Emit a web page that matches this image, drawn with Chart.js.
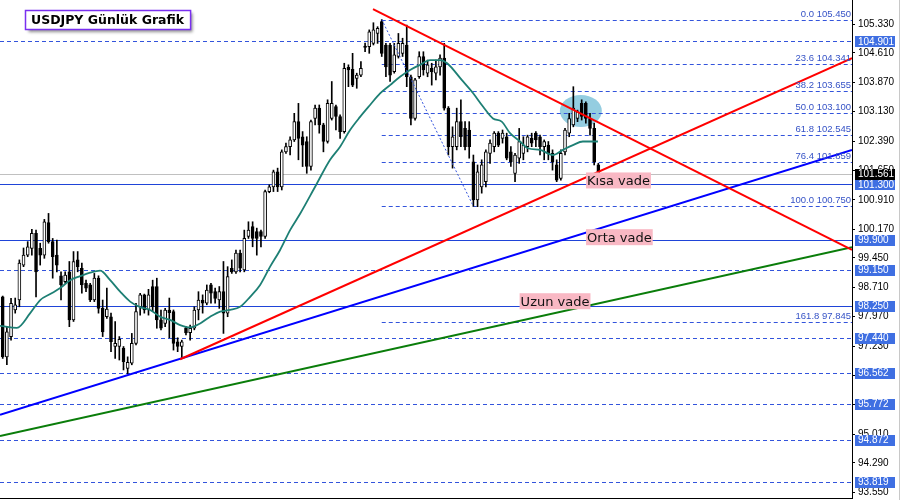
<!DOCTYPE html>
<html><head><meta charset="utf-8">
<script src="https://cdn.jsdelivr.net/npm/chart.js@4/dist/chart.umd.min.js"></script>
<style>html,body{margin:0;padding:0;background:#fff;}canvas{display:block;}</style>
</head><body>
<canvas id="c" width="900" height="500"></canvas>
<script>
// ---- Candles (daily USDJPY) ----
const opens  = [98.47,96.96,97.47,98.14,98.39,99.27,99.52,99.69,100.07,99.69,99.52,100.34,99.86,99.52,99.00,98.85,99.10,97.89,99.40,99.19,98.81,98.77,98.39,98.94,98.18,97.97,97.97,97.22,97.22,97.18,96.67,96.80,97.30,98.22,98.52,98.14,98.73,98.73,97.89,97.80,98.14,98.10,97.34,97.22,97.69,97.57,97.68,98.14,98.39,98.31,98.77,98.60,98.39,98.60,98.06,99.19,99.10,99.57,99.15,99.99,100.24,100.11,100.11,99.99,101.12,101.24,101.62,101.24,102.12,102.25,102.42,102.88,102.50,102.38,101.75,102.96,103.22,102.80,102.38,102.96,103.26,103.01,102.63,104.25,104.20,103.97,104.05,104.78,104.77,104.85,105.10,105.40,104.81,104.81,104.14,104.52,104.60,104.81,104.01,102.96,104.01,104.52,104.10,104.22,104.10,104.26,104.48,103.22,102.25,102.25,102.88,102.71,102.67,101.87,100.91,101.24,101.37,102.08,102.25,102.59,102.46,102.50,102.12,101.58,101.96,102.08,102.25,102.46,102.59,102.50,102.25,102.29,102.08,101.79,101.45,102.12,102.59,102.80,102.96,103.34,103.34,102.96,102.71,101.79];
const highs  = [98.49,97.72,98.43,98.44,99.40,99.70,99.86,100.17,100.15,99.82,100.42,100.57,99.94,99.90,99.10,99.10,99.36,99.61,99.61,99.32,98.89,98.81,99.06,99.00,98.39,98.69,98.06,97.85,97.47,97.22,96.96,97.55,98.31,98.56,98.54,98.66,98.89,98.94,98.14,98.18,98.44,98.14,97.44,97.38,97.72,97.76,98.22,98.60,98.52,98.77,98.81,98.69,98.73,99.36,99.23,99.40,99.65,99.65,100.15,100.36,100.36,100.20,100.15,101.16,101.29,101.66,101.71,102.17,102.34,102.50,103.09,103.34,102.63,102.50,102.92,103.30,103.30,102.84,103.43,103.89,103.30,103.05,104.35,104.31,104.60,104.10,104.39,104.86,105.19,105.37,105.27,105.45,104.85,104.85,104.85,105.10,104.98,105.31,104.05,103.97,104.64,104.64,104.43,104.35,104.43,104.56,104.85,103.26,102.75,103.22,103.43,102.88,102.88,102.04,101.79,101.92,102.17,102.42,102.63,102.63,102.67,102.59,102.25,102.08,102.71,102.50,102.54,102.59,102.63,102.54,102.42,102.38,102.17,101.92,102.17,102.71,103.09,103.76,103.17,103.43,103.38,103.09,102.84,101.83];
const lows   = [96.92,96.76,97.38,98.06,98.22,99.23,99.48,99.52,98.47,99.27,99.44,99.82,98.94,99.10,98.39,98.81,97.72,97.85,99.10,98.56,98.60,98.35,98.35,98.06,97.47,97.93,97.09,96.92,96.88,96.63,96.53,96.76,97.26,98.01,98.06,98.01,98.10,97.68,97.64,97.72,97.44,97.13,97.09,96.93,97.51,97.38,97.64,97.89,98.06,98.27,98.31,98.31,98.18,97.55,97.97,99.06,99.06,99.10,99.10,99.94,99.73,99.52,99.73,99.94,101.09,101.12,101.12,101.16,102.08,102.04,102.38,101.92,101.75,101.58,101.66,102.80,102.59,102.12,102.34,102.92,102.67,102.46,102.59,103.76,103.76,103.72,104.01,104.64,104.60,104.81,104.85,104.52,104.01,103.89,104.10,104.48,104.52,103.76,102.80,102.92,103.97,104.05,104.01,103.80,103.93,104.05,103.17,102.04,101.71,102.17,102.25,102.17,101.96,100.75,100.74,101.08,101.24,101.83,102.12,102.25,102.34,101.92,101.75,101.37,101.83,101.92,102.12,102.25,102.25,102.04,101.92,101.92,101.66,101.37,101.41,102.04,102.50,102.75,102.88,102.92,102.84,102.54,101.79,101.54];
const closes = [96.96,97.59,98.31,98.27,99.32,99.52,99.73,100.07,99.10,99.52,100.36,99.86,99.48,99.27,98.77,99.02,97.89,99.36,99.23,98.77,98.69,98.39,98.94,98.18,97.59,98.16,97.34,97.30,97.40,96.84,96.82,97.30,98.10,98.52,98.14,98.52,98.22,97.89,97.68,98.14,98.07,97.30,97.22,97.34,97.56,97.68,98.14,98.39,98.31,98.64,98.56,98.43,98.60,98.06,98.98,99.10,99.57,99.19,99.94,100.15,99.94,99.94,99.99,101.12,101.24,101.62,101.24,102.12,102.25,102.42,102.88,102.46,102.29,101.75,102.88,103.22,102.80,102.38,103.34,103.34,103.01,102.63,104.22,104.18,103.80,104.05,104.22,104.75,105.14,105.19,105.23,104.60,104.26,104.05,104.56,104.85,104.85,104.01,102.96,103.93,104.52,104.18,104.31,104.14,104.26,104.48,103.22,102.25,102.50,102.88,102.50,102.25,102.25,100.91,101.62,101.79,102.12,102.34,102.59,102.29,102.59,101.96,101.87,102.04,102.38,102.29,102.50,102.34,102.42,102.25,102.38,102.08,101.87,101.41,102.08,102.67,102.96,103.22,103.13,103.01,102.96,102.71,101.87,101.56];

// ---- Moving average ----
const maIdx  = [-0.65,3.4,6.6,9.0,11.4,13.8,16.2,18.6,21.0,23.4,25.8,28.2,30.6,33.0,35.4,37.8,40.2,42.6,45.0,47.4,49.8,52.2,54.6,57.0,59.4,61.8,64.2,66.6,69.0,71.4,75.0,78.6,81.0,83.4,85.8,88.2,90.6,93.0,95.4,97.8,100.2,102.6,105.0,106.7,110.2,112.9,115.3,117.7,119.8,121.8,124.2,126.1,129.0,132.1,134.5,136.9,139.3,142.9];
const maVals = [97.74,97.69,98.06,98.39,98.54,98.69,98.89,98.99,99.08,99.13,98.89,98.60,98.35,98.21,98.14,97.97,97.89,97.76,97.70,97.80,97.97,98.10,98.14,98.22,98.47,98.77,99.23,99.65,100.15,100.56,101.24,101.92,102.25,102.67,103.00,103.30,103.59,103.80,104.01,104.18,104.31,104.43,104.43,104.35,103.93,103.60,103.26,102.96,102.88,102.59,102.38,102.21,102.17,102.04,102.17,102.29,102.38,102.38];

// ---- Trend lines (bar index, price) ----
const redDownX = [88.9, 203.9],  redDownY = [105.715, 99.65];
const redUpX   = [42.6, 203.9],  redUpY   = [96.90, 104.48];
const blueX    = [-0.65, 203.9], blueY    = [95.50, 102.17];
const greenX   = [-0.65, 203.9], greenY   = [94.97, 99.72];
const fibDiagX = [91, 113],      fibDiagY = [105.45, 100.75];

// ---- Fibonacci levels ----
const fibLevels = [0.0, 23.6, 38.2, 50.0, 61.8, 76.4, 100.0, 161.8];
const fibPrices = [105.450, 104.341, 103.655, 103.100, 102.545, 101.859, 100.750, 97.845];
const fibStartIdx = 91;

// ---- Horizontal levels ----
const dashedLevels = [104.901, 99.150, 97.440, 96.562, 95.772, 94.872, 93.819];
const solidLevels  = [101.300, 99.900, 98.250];
const currentPrice = 101.561;

// ---- Price axis ----
const tickValues = [105.33,104.61,103.87,103.13,102.39,101.65,100.91,100.17,99.45,98.71,97.97,97.23,96.49,95.75,95.01,94.29,93.55];
const tickLabels = ["105.330","104.610","103.870","103.130","102.390","101.650","100.910","100.170","99.450","98.710","97.970","97.230","96.490","95.750","95.010","94.290","93.550"];

// ---- Text annotations ----
const titleText = "USDJPY Günlük Grafik";
const zoneLabels = ["Kısa vade", "Orta vade", "Uzun vade"];
const zoneAnchorX = [140.05, 140.05, 124.1];
const zoneAnchorY = [101.40, 99.972, 98.36];

const idx = opens.map((_, i) => i);
const pts = (xs, ys) => xs.map((x, k) => ({x: x, y: ys[k]}));

const overlay = {
  id: 'overlay',
  beforeDatasetsDraw(chart) {
    const {ctx, chartArea: a, scales: {x, y}} = chart;
    ctx.save();
    ctx.beginPath(); ctx.rect(a.left, a.top, a.right - a.left, a.bottom - a.top); ctx.clip();
    ctx.fillStyle = '#94cde0';
    ctx.beginPath();
    ctx.ellipse(x.getPixelForValue(138.8), y.getPixelForValue(103.15), 21, 16, 0, 0, Math.PI * 2);
    ctx.fill();
    ctx.lineWidth = 1;
    const hline = (p, x0, color, dash) => {
      const py = Math.round(y.getPixelForValue(p)) + 0.5;
      ctx.strokeStyle = color; ctx.setLineDash(dash);
      ctx.beginPath(); ctx.moveTo(x0, py); ctx.lineTo(a.right, py); ctx.stroke();
    };
    hline(currentPrice, a.left, '#c0c0c0', []);
    dashedLevels.forEach(p => hline(p, a.left, '#3354dc', [4, 3]));
    const fx = x.getPixelForValue(fibStartIdx);
    fibPrices.forEach(p => hline(p, fx, '#3354dc', [4, 3]));
    solidLevels.forEach(p => hline(p, a.left, '#1f44d8', []));
    ctx.restore();
  },
  afterDatasetsDraw(chart) {
    const {ctx, chartArea: a, scales: {x, y}} = chart;
    ctx.save();
    ctx.font = '9.5px "Liberation Sans", Arial, sans-serif';
    ctx.fillStyle = '#3552c6';
    ctx.textAlign = 'right'; ctx.textBaseline = 'bottom';
    fibPrices.forEach((p, k) => {
      ctx.fillText(fibLevels[k].toFixed(1) + ' ' + p.toFixed(3), a.right - 1, Math.round(y.getPixelForValue(p)) - 1);
    });
    ctx.font = '13px "DejaVu Sans", sans-serif';
    ctx.textAlign = 'left'; ctx.textBaseline = 'middle';
    zoneLabels.forEach((t, k) => {
      const px = x.getPixelForValue(zoneAnchorX[k]);
      const py = y.getPixelForValue(zoneAnchorY[k]);
      const w = ctx.measureText(t).width;
      ctx.fillStyle = '#f9b8c4';
      ctx.fillRect(px, py - 8, w + 2, 16);
      ctx.fillStyle = '#111';
      ctx.fillText(t, px + 1, py + 1);
    });
    ctx.font = 'bold 12.5px "DejaVu Sans", sans-serif';
    const tw = ctx.measureText(titleText).width;
    const bx = 25, by = 10, bw = tw + 12, bh = 19;
    ctx.shadowColor = 'rgba(0,0,0,0.45)'; ctx.shadowOffsetX = 3; ctx.shadowOffsetY = 3; ctx.shadowBlur = 3;
    ctx.fillStyle = '#fff'; ctx.fillRect(bx, by, bw, bh);
    ctx.shadowColor = 'transparent';
    ctx.strokeStyle = '#7a30f0'; ctx.lineWidth = 1.5;
    ctx.strokeRect(bx + 0.5, by + 0.5, bw, bh);
    ctx.fillStyle = '#000'; ctx.textAlign = 'left'; ctx.textBaseline = 'middle';
    ctx.fillText(titleText, bx + 6, by + bh / 2 + 1);
    ctx.restore();
  },
  afterDraw(chart) {
    const {ctx, chartArea: a, scales: {y}} = chart;
    ctx.save();
    ctx.font = '10px "Liberation Sans", Arial, sans-serif';
    ctx.textAlign = 'left'; ctx.textBaseline = 'middle';
    const box = (p, bg, fg) => {
      const py = y.getPixelForValue(p);
      ctx.fillStyle = bg; ctx.fillRect(a.right + 3, Math.round(py) - 5, 40, 11);
      ctx.fillStyle = fg; ctx.fillText(p.toFixed(3), a.right + 6, py + 0.5);
    };
    dashedLevels.concat(solidLevels).forEach(p => box(p, '#3f6fe2', '#fff'));
    box(currentPrice, '#000', '#fff');
    ctx.strokeStyle = '#000'; ctx.lineWidth = 1;
    ctx.beginPath(); ctx.moveTo(a.left, a.bottom + 0.5); ctx.lineTo(a.right, a.bottom + 0.5); ctx.stroke();
    ctx.strokeStyle = '#c8c8c8';
    ctx.beginPath(); ctx.moveTo(899.5, 0); ctx.lineTo(899.5, 500); ctx.stroke();
    ctx.restore();
  }
};

new Chart(document.getElementById('c'), {
  type: 'bar',
  data: {
    datasets: [
      { type: 'line', label: 'redDown', data: pts(redDownX, redDownY), borderColor: '#ff0000', borderWidth: 2, pointRadius: 0, order: 1 },
      { type: 'line', label: 'redUp', data: pts(redUpX, redUpY), borderColor: '#ff0000', borderWidth: 2, pointRadius: 0, order: 1 },
      { type: 'line', label: 'blue', data: pts(blueX, blueY), borderColor: '#0000ff', borderWidth: 2, pointRadius: 0, order: 1 },
      { type: 'line', label: 'green', data: pts(greenX, greenY), borderColor: '#0a7d0a', borderWidth: 2, pointRadius: 0, order: 1 },
      { type: 'line', label: 'fibDiag', data: pts(fibDiagX, fibDiagY), borderColor: '#3354dc', borderWidth: 1, borderDash: [2, 2], pointRadius: 0, order: 2 },
      { type: 'line', label: 'MA', data: pts(maIdx, maVals), borderColor: '#1d7f74', borderWidth: 1.8, pointRadius: 0, cubicInterpolationMode: 'monotone', order: 3 },
      { label: 'bodies', data: idx.map(i => ({x: i, y: [opens[i], closes[i]]})), grouped: false, barThickness: 3, minBarLength: 1,
        backgroundColor: c => closes[c.dataIndex] >= opens[c.dataIndex] ? '#ffffff' : '#000000',
        borderColor: '#000', borderWidth: 1, borderSkipped: false, order: 4 },
      { label: 'wicks', data: idx.map(i => ({x: i, y: [lows[i], highs[i]]})), grouped: false, barThickness: 1,
        backgroundColor: '#000', borderWidth: 0, order: 5 }
    ]
  },
  options: {
    responsive: false, animation: false, devicePixelRatio: 1,
    layout: { padding: { left: 0, right: 0, top: 0, bottom: 2 } },
    plugins: { legend: { display: false }, tooltip: { enabled: false } },
    scales: {
      x: { type: 'linear', min: -0.65, max: 203.9, display: false, offset: false },
      y: {
        position: 'right', min: 93.407, max: 105.942,
        afterBuildTicks: s => { s.ticks = tickValues.map(v => ({value: v})); },
        afterFit: s => { s.width = 48; s.paddingTop = 0; s.paddingBottom = 0; },
        ticks: { autoSkip: false, padding: 3, color: '#000', font: { family: '"Liberation Sans", Arial, sans-serif', size: 10 },
                 callback: (v, i) => tickLabels[i] },
        grid: { drawOnChartArea: false, drawTicks: true, tickLength: 3, color: '#000' },
        border: { display: true, color: '#000' }
      }
    }
  },
  plugins: [overlay]
});
</script>
</body></html>
